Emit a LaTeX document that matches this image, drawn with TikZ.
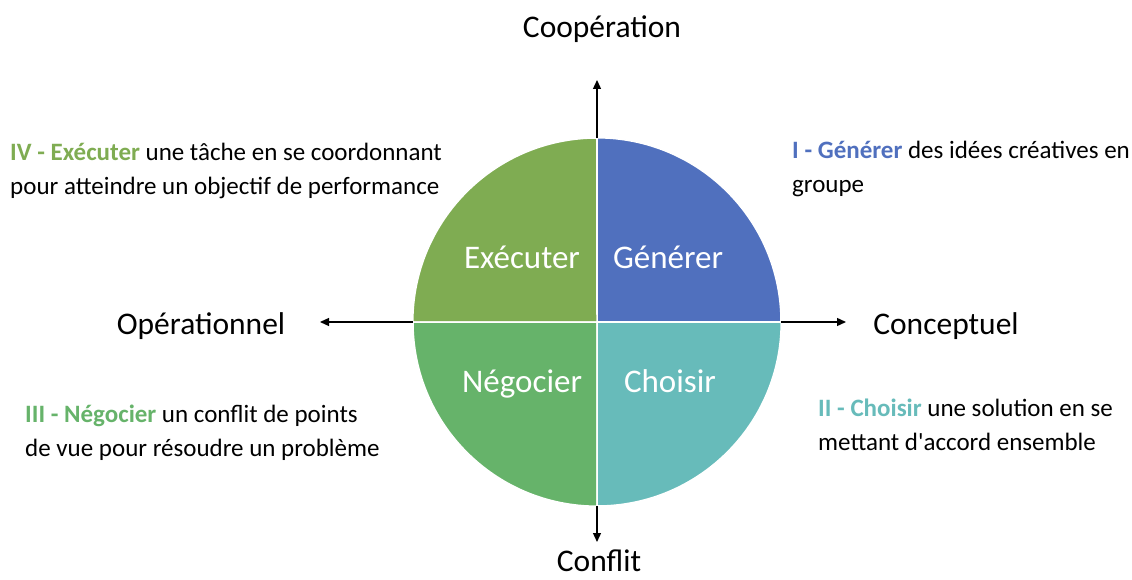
\documentclass[tikz,border=0pt]{standalone}
\usepackage{fontspec}
\setmainfont{Carlito}
\usepackage{tikz}
\usetikzlibrary{arrows.meta,positioning}

\definecolor{vertExec}{HTML}{7FAC52}
\definecolor{bleuGen}{HTML}{5070BE}
\definecolor{vertNego}{HTML}{66B36A}
\definecolor{bleuChoix}{HTML}{67BBBA}

\newcommand{\txtaxe}{\fontsize{31.5}{38}\selectfont}
\newcommand{\txtquart}{\fontsize{33}{40}\selectfont}
\newcommand{\txtdesc}{\fontsize{25}{34}\selectfont}

\tikzset{
	quart/.style={draw=white,line width=1.5pt},
	axe/.style={-{Triangle[length=9pt,width=8pt]},line width=1.3pt},
	axelabel/.style={inner sep=0pt,anchor=base,font=\txtaxe},
	quartlabel/.style={inner sep=0pt,anchor=base,text=white,font=\txtquart},
	desc/.style={inner sep=0pt,anchor=base west,align=left,font=\txtdesc}
}

\begin{document}
\begin{tikzpicture}[x=1pt,y=1pt]
	\useasboundingbox (0,0) rectangle (1132,579);

	\node[circle,minimum size=368pt,inner sep=0pt] (disc) at (597,257) {};

	% quadrants
	\filldraw[quart,fill=bleuGen] (disc.center) -- (disc.north) arc[start angle=90,end angle=0,radius=184] -- cycle;
	\filldraw[quart,fill=vertExec] (disc.center) -- (disc.west) arc[start angle=180,end angle=90,radius=184] -- cycle;
	\filldraw[quart,fill=vertNego] (disc.center) -- (disc.south) arc[start angle=270,end angle=180,radius=184] -- cycle;
	\filldraw[quart,fill=bleuChoix] (disc.center) -- (disc.east) arc[start angle=0,end angle=-90,radius=184] -- cycle;

	\node[quartlabel] (exec) at (522,310) {Exécuter};
	\node[quartlabel] (gen) at (668,310) {Générer};
	\node[quartlabel] (nego) at (522,187) {Négocier};
	\node[quartlabel] (choix) at (670,187) {Choisir};

	% axes
	\coordinate (hautFl) at (597,499);
	\coordinate (basFl) at (597,37);
	\coordinate (gaucheFl) at (320,257);
	\coordinate (droiteFl) at (846,257);
	\draw[axe] (disc.north) -- (hautFl);
	\draw[axe] (disc.south) -- (basFl);
	\draw[axe] (disc.west) -- (gaucheFl);
	\draw[axe] (disc.east) -- (droiteFl);

	\node[axelabel] (coop) at (602,541) {Coopération};
	\node[axelabel] (conflit) at (599,8) {Conflit};
	\node[axelabel] (oper) at (201,245) {Opérationnel};
	\node[axelabel] (concept) at (946,245) {Conceptuel};

	% descriptions (base = last line)
	\node[desc] (descIV) at (10,384) {\textbf{\color{vertExec}IV - Exécuter} une tâche en se coordonnant\\pour atteindre un objectif de performance};
	\node[desc] (descI) at (792,386) {\textbf{\color{bleuGen}I - Générer} des idées créatives en\\groupe};
	\node[desc] (descIII) at (25,123) {\textbf{\color{vertNego}III - Négocier} un conflit de points\\de vue pour résoudre un problème};
	\node[desc] (descII) at (818,129) {\textbf{\color{bleuChoix}II - Choisir} une solution en se\\mettant d\textquotesingle accord ensemble};
\end{tikzpicture}
\end{document}
